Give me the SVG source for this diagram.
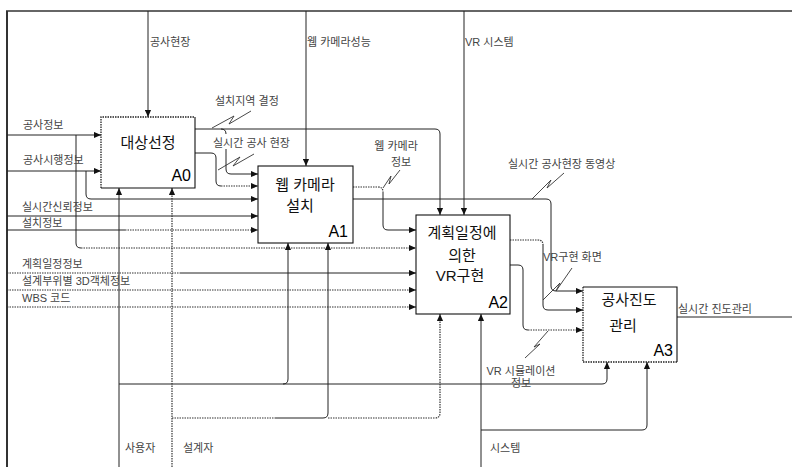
<svg xmlns="http://www.w3.org/2000/svg" width="792" height="467" viewBox="0 0 792 467">
<style>
.ln{fill:none;stroke:#222;stroke-width:1}
.dt{fill:none;stroke:#333;stroke-width:1.2;stroke-dasharray:1.5 1}
.sq{fill:none;stroke:#333;stroke-width:0.9}
.bx{fill:#fff;stroke:none}
.bs{fill:none;stroke:#111;stroke-width:1.1}
.bd{fill:none;stroke:#222;stroke-width:1.3;stroke-dasharray:1.5 1}
.lbl{font-family:"Liberation Sans","Noto Sans CJK KR",sans-serif;font-size:11px;fill:#444}
.ttl{font-family:"Liberation Sans","Noto Sans CJK KR",sans-serif;font-size:15px;fill:#111;text-anchor:middle}
.id{font-family:"Liberation Sans","Noto Sans CJK KR",sans-serif;font-size:16px;fill:#000;text-anchor:end}
</style>
<defs>
<marker id="ar" viewBox="0 0 8 8" refX="8" refY="4" markerWidth="7" markerHeight="7" markerUnits="userSpaceOnUse" orient="auto">
<path d="M0 0.5 L8 4 L0 7.5 Z" fill="#111"/>
</marker>
</defs>
<rect width="792" height="467" fill="#fff"/>
<g id="frame">
<path d="M6 11 H792" fill="none" stroke="#333" stroke-width="1.5"/>
<path d="M7 11 V467" fill="none" stroke="#333" stroke-width="2"/>
</g>
<g id="connectors">
<path class="ln" d="M148 11 V117" marker-end="url(#ar)"/>
<path class="ln" d="M306 11 V166" marker-end="url(#ar)"/>
<path class="ln" d="M464 11 V215" marker-end="url(#ar)"/>
<path class="ln" d="M195 129 H435 Q440 129 440 134 V215" marker-end="url(#ar)"/>
<path class="ln" d="M221 129 Q226 129 226 134"/>
<path class="ln" d="M226 149 V169 Q226 174 231 174 H258" marker-end="url(#ar)"/>
<path class="ln" d="M195 153 H211 Q216 153 216 158 V181 Q216 186 221 186"/>
<path class="dt" d="M221 186 H258" marker-end="url(#ar)"/>
<path class="ln" d="M7 135 H101" marker-end="url(#ar)"/>
<path class="ln" d="M76 135 V243 Q76 248 81 248"/>
<path class="dt" d="M81 248 H416" marker-end="url(#ar)"/>
<path class="ln" d="M7 171 H101" marker-end="url(#ar)"/>
<path class="ln" d="M86 171 V194 Q86 199 91 199 H258" marker-end="url(#ar)"/>
<path class="ln" d="M7 216 H258" marker-end="url(#ar)"/>
<path class="ln" d="M7 230 H125"/>
<path class="dt" d="M125 230 H258" marker-end="url(#ar)"/>
<path class="dt" d="M7 273 H180"/>
<path class="ln" d="M180 273 H416" marker-end="url(#ar)"/>
<path class="dt" d="M7 290 H416" marker-end="url(#ar)"/>
<path class="dt" d="M7 307 H416" marker-end="url(#ar)"/>
<path class="dt" d="M353 187 H378 Q383 187 383 192"/>
<path class="ln" d="M383 192 V225 Q383 230 388 230 H416" marker-end="url(#ar)"/>
<path class="ln" d="M353 199 H546 Q551 199 551 204 V286 Q551 291 556 291 H583" marker-end="url(#ar)"/>
<path class="dt" d="M510 240 H538 Q543 240 543 245"/>
<path class="ln" d="M543 245 V305 Q543 310 548 310 H583" marker-end="url(#ar)"/>
<path class="ln" d="M510 265 H518 Q523 265 523 270 V325 Q523 330 528 330"/>
<path class="dt" d="M528 330 H583" marker-end="url(#ar)"/>
<path class="ln" d="M677 317 H792"/>
<path class="ln" d="M119 467 V188" marker-end="url(#ar)"/>
<path class="ln" d="M119 384 H602 Q607 384 607 379 V362" marker-end="url(#ar)"/>
<path class="ln" d="M283 384 Q288 384 288 379 V243" marker-end="url(#ar)"/>
<path class="dt" d="M172 467 V188" marker-end="url(#ar)"/>
<path class="dt" d="M172 418 H275"/>
<path class="ln" d="M275 418 H323 Q328 418 328 413 V243" marker-end="url(#ar)" stroke-width="1.3"/>
<path class="dt" d="M328 418 H435 Q440 418 440 413 V314" marker-end="url(#ar)"/>
<path class="ln" d="M481 467 V314" marker-end="url(#ar)"/>
<path class="ln" d="M481 430 H642 Q647 430 647 425 V362" marker-end="url(#ar)"/>
<polyline class="sq" points="212,128 234,116 229,124 251,111"/>
<polyline class="sq" points="218,170 240,157 233,166 254,154"/>
<polyline class="sq" points="383,188 391,176 389,184 400,170"/>
<polyline class="sq" points="532,199 551,180 547,188 564,173"/>
<polyline class="sq" points="543,300 560,283 556,291 572,268"/>
<polyline class="sq" points="548,331 534,347 540,344 525,358"/>
</g>
<g id="A0">
<rect class="bx" x="101" y="117" width="94" height="71"/>
<path class="bd" d="M101 188 V117 H195"/>
<path class="bs" d="M195 117 V188 H101"/>
<text class="ttl" x="148" y="148">대상선정</text>
<text class="id" x="191" y="181">A0</text>
</g>
<g id="A1">
<rect class="bx" x="258" y="166" width="95" height="77"/>
<rect class="bs" x="258" y="166" width="95" height="77"/>
<text class="ttl" x="305" y="190">웹 카메라</text>
<text class="ttl" x="300" y="211">설치</text>
<text class="id" x="348" y="237">A1</text>
</g>
<g id="A2">
<rect class="bx" x="416" y="215" width="94" height="99"/>
<rect class="bs" x="416" y="215" width="94" height="99"/>
<text class="ttl" x="462" y="238">계획일정에</text>
<text class="ttl" x="462" y="261">의한</text>
<text class="ttl" x="460" y="281">VR구현</text>
<text class="id" x="508" y="308">A2</text>
</g>
<g id="A3">
<rect class="bx" x="583" y="287" width="94" height="75"/>
<path class="bs" d="M583 287 H677 V362"/>
<path class="bd" d="M677 362 H583 V287"/>
<text class="ttl" x="629" y="305">공사진도</text>
<text class="ttl" x="623" y="331">관리</text>
<text class="id" x="673" y="356">A3</text>
</g>
<g id="labels">
<text class="lbl" x="150" y="46">공사현장</text>
<text class="lbl" x="307" y="46">웹 카메라성능</text>
<text class="lbl" x="465" y="46">VR 시스템</text>
<text class="lbl" x="215" y="105">설치지역 결정</text>
<text class="lbl" x="213" y="147">실시간 공사 현장</text>
<text class="lbl" x="396" y="150" text-anchor="middle">웹 카메라</text>
<text class="lbl" x="401" y="166" text-anchor="middle">정보</text>
<text class="lbl" x="508" y="168">실시간 공사현장 동영상</text>
<text class="lbl" x="543" y="261">VR구현 화면</text>
<text class="lbl" x="521" y="375" text-anchor="middle">VR 시뮬레이션</text>
<text class="lbl" x="521" y="387" text-anchor="middle">정보</text>
<text class="lbl" x="678" y="313">실시간 진도관리</text>
<text class="lbl" x="23" y="129">공사정보</text>
<text class="lbl" x="23" y="164">공사시행정보</text>
<text class="lbl" x="22" y="211">실시간신뢰정보</text>
<text class="lbl" x="22" y="227">설치정보</text>
<text class="lbl" x="22" y="268">계획일정정보</text>
<text class="lbl" x="22" y="285">설계부위별 3D객체정보</text>
<text class="lbl" x="22" y="302">WBS 코드</text>
<text class="lbl" x="125" y="452">사용자</text>
<text class="lbl" x="183" y="452">설계자</text>
<text class="lbl" x="490" y="452">시스템</text>
</g>
</svg>
